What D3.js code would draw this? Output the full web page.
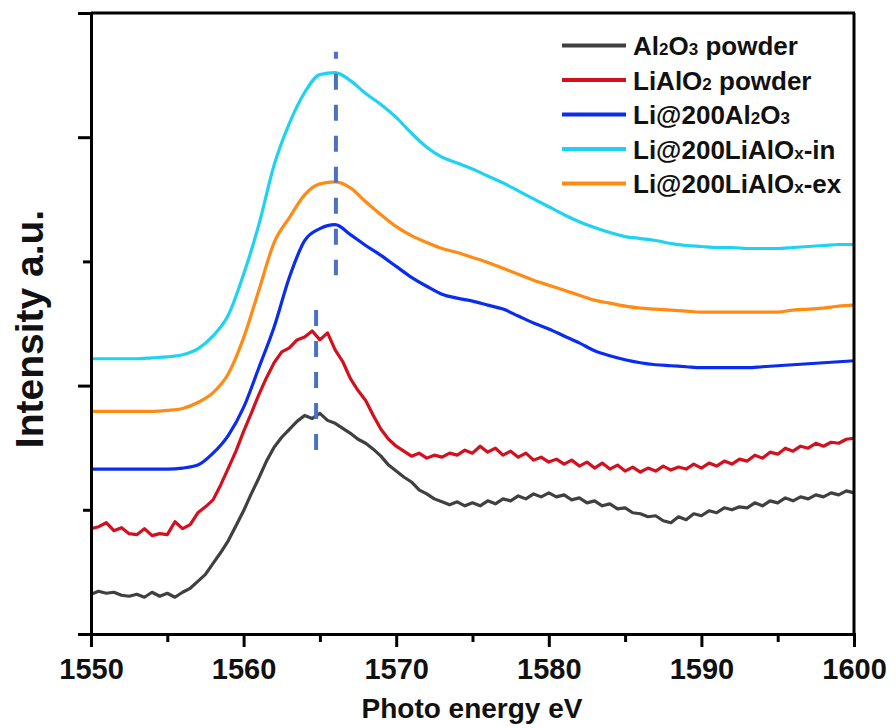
<!DOCTYPE html>
<html>
<head>
<meta charset="utf-8">
<script src="https://cdn.jsdelivr.net/npm/d3@7"></script>
<style>
  body { margin: 0; background: #fff; }
  svg { display: block; font-family: "Liberation Sans", Arial, sans-serif; }
</style>
</head>
<body>
<script>
// photon energy grids (eV)
var energy = d3.range(1550, 1600.5, 1);      // smooth spectra, 1 eV steps
var energyFine = d3.range(1550, 1600.25, 0.5); // noisy powder spectra, 0.5 eV steps

// intensities (a.u., offsets included)
var al2o3Powder = [
  40,43,41,42,39,38,40,37,42,38,
  41,37,42,46,53,60,71,82,94,109,
  124,141,157,174,188,198,206,214,220,217,
  222,215,212,207,202,196,192,186,179,170,
  164,158,153,145,141,136,133,130,133,129,
  132,129,134,131,136,134,139,136,141,138,
  142,138,140,135,137,132,134,129,131,126,
  127,122,121,118,119,114,112,118,115,121,
  119,124,122,127,125,128,127,132,129,134,
  132,137,134,138,136,140,138,142,140,144,
  142];
var lialo2Powder = [
  106,108,112,104,107,101,100,106,99,101,
  100,113,106,110,122,128,135,150,167,184,
  204,222,241,258,273,284,288,296,299,305,
  296,303,286,274,257,245,235,220,206,196,
  189,184,179,182,177,180,178,182,180,185,
  182,189,183,187,180,184,178,182,175,178,
  173,176,171,175,169,173,167,172,166,170,
  164,168,163,167,164,169,165,168,166,171,
  167,172,169,174,171,176,174,180,177,183,
  181,187,184,189,187,192,189,193,192,196,
  197];
var liAl2o3 = [
  166,166,166,166,166,166,167,170,182,200,
  228,268,309,359,396,408,412,402,391,381,
  370,359,350,342,338,335,331,327,320,313,
  307,300,293,285,280,276,273,271,270,269,
  268,268,268,268,269,270,271,272,273,274,
  275];
var liLialoxIn = [
  277,277,277,277,278,279,281,287,300,321,
  362,412,472,514,545,563,565,557,544,533,
  520,504,490,480,474,468,461,454,446,438,
  430,422,415,409,404,400,398,396,393,391,
  390,389,389,388,388,388,389,390,391,392,
  392];
var liLialoxEx = [
  224,224,224,224,224,225,227,233,243,262,
  298,346,394,419,442,453,455,449,435,422,
  410,401,394,388,384,379,374,368,362,356,
  351,346,341,336,333,330,328,327,326,325,
  324,324,324,324,324,324,326,327,328,330,
  331];

var seriesNames = ["Al2O3 powder", "LiAlO2 powder", "Li@200Al2O3", "Li@200LiAlOx-in", "Li@200LiAlOx-ex"];
var seriesColors = ["#404040", "#d2101e", "#0a2cf0", "#1ed3f2", "#ff8a14"];

// peak markers: [energy, intensity from, intensity to]
var peakLines = [[1566.05, 586, 361], [1564.75, 326, 184]];

var xTicks = [1550, 1560, 1570, 1580, 1590, 1600];
var xMinor = [1555, 1565, 1575, 1585, 1595];
var yMajor = [0, 250, 500];
var yMinor = [125, 375, 625];

window.onload = function(){
  var W = 896, H = 728;
  var svg = d3.select('body').append('svg')
    .attr('width', W)
    .attr('height', H);

  var x = d3.scaleLinear().domain([1550, 1600]).range([91, 854]);
  var y = d3.scaleLinear().domain([0, 625]).range([634, 13]);

  var series = [
    {name: seriesNames[0], color: seriesColors[0], e: energyFine, v: al2o3Powder, smooth: false},
    {name: seriesNames[1], color: seriesColors[1], e: energyFine, v: lialo2Powder, smooth: false},
    {name: seriesNames[2], color: seriesColors[2], e: energy, v: liAl2o3, smooth: true},
    {name: seriesNames[3], color: seriesColors[3], e: energy, v: liLialoxIn, smooth: true},
    {name: seriesNames[4], color: seriesColors[4], e: energy, v: liLialoxEx, smooth: true}
  ];

  var line = d3.line()
    .x(function(d){ return x(d[0]); })
    .y(function(d){ return y(d[1]); });
  var smoothLine = d3.line()
    .x(function(d){ return x(d[0]); })
    .y(function(d){ return y(d[1]); })
    .curve(d3.curveMonotoneX);

  svg.append('g').selectAll('path')
    .data(series)
    .enter()
    .append('path')
      .attr('d', function(s){
        var pts = s.e.map(function(e, i){ return [e, s.v[i]]; });
        return s.smooth ? smoothLine(pts) : line(pts);
      })
      .attr('fill', 'none')
      .attr('stroke', function(s){ return s.color; })
      .attr('stroke-width', 3.2)
      .attr('stroke-linejoin', 'round');

  // dashed peak lines
  svg.append('g').selectAll('line')
    .data(peakLines)
    .enter()
    .append('line')
      .attr('x1', function(d){ return x(d[0]); })
      .attr('x2', function(d){ return x(d[0]); })
      .attr('y1', function(d){ return y(d[1]); })
      .attr('y2', function(d){ return y(d[2]); })
      .attr('stroke', '#4a72c0')
      .attr('stroke-width', 4)
      .attr('stroke-dasharray', '16,15')
      .attr('stroke-dashoffset', function(d, i){ return i == 0 ? 9 : 0; });

  // axes
  var gx = svg.append('g').attr('transform', 'translate(0,634)');
  gx.call(d3.axisBottom(x).tickValues(xTicks).tickSize(13).tickPadding(11).tickFormat(d3.format('d')));
  var gxm = svg.append('g').attr('transform', 'translate(0,634)');
  gxm.call(d3.axisBottom(x).tickValues(xMinor).tickSize(8).tickFormat(''));
  var gy = svg.append('g').attr('transform', 'translate(91,0)');
  gy.call(d3.axisLeft(y).tickValues(yMajor).tickSize(13).tickFormat(''));
  var gym = svg.append('g').attr('transform', 'translate(91,0)');
  gym.call(d3.axisLeft(y).tickValues(yMinor).tickSize(8).tickFormat(''));

  svg.selectAll('.domain').attr('stroke', '#000').attr('stroke-width', 3);
  svg.selectAll('.tick line').attr('stroke', '#000').attr('stroke-width', 3);
  gxm.select('.domain').remove();
  gym.select('.domain').remove();
  gx.selectAll('.tick text')
    .attr('font-size', 29)
    .attr('font-weight', 'bold')
    .attr('font-family', '"Liberation Sans", Arial, sans-serif')
    .attr('fill', '#111');

  // frame top and right
  svg.append('line').attr('x1', 91).attr('x2', 855).attr('y1', 13).attr('y2', 13)
    .attr('stroke', '#000').attr('stroke-width', 3);
  svg.append('line').attr('x1', 854).attr('x2', 854).attr('y1', 13).attr('y2', 635)
    .attr('stroke', '#000').attr('stroke-width', 3);

  // axis titles
  svg.append('text')
    .attr('x', 472).attr('y', 718)
    .attr('text-anchor', 'middle')
    .attr('font-size', 28).attr('font-weight', 'bold').attr('fill', '#111')
    .text('Photo energy eV');
  svg.append('text')
    .attr('transform', 'translate(43,329) rotate(-90)')
    .attr('text-anchor', 'middle')
    .attr('font-size', 39).attr('font-weight', 'bold').attr('fill', '#111')
    .text('Intensity a.u.');

  // legend
  var legendParts = [
    [['Al', 0], ['2', 1], ['O', 0], ['3', 1], [' powder', 0]],
    [['LiAlO', 0], ['2', 1], [' powder', 0]],
    [['Li@200Al', 0], ['2', 1], ['O', 0], ['3', 1]],
    [['Li@200LiAlO', 0], ['x', 1], ['-in', 0]],
    [['Li@200LiAlO', 0], ['x', 1], ['-ex', 0]]
  ];
  var lg = svg.append('g');
  series.forEach(function(s, i){
    var ly = 45.5 + i * 34.5;
    lg.append('line')
      .attr('x1', 562).attr('x2', 626).attr('y1', ly).attr('y2', ly)
      .attr('stroke', s.color).attr('stroke-width', 4);
    var t = lg.append('text')
      .attr('x', 633).attr('y', ly + 9.5)
      .attr('font-size', 26).attr('font-weight', 'bold').attr('fill', '#111');
    legendParts[i].forEach(function(p){
      t.append('tspan')
        .attr('font-size', p[1] ? 17 : 26)
        .text(p[0]);
    });
  });
};
</script>
</body>
</html>
